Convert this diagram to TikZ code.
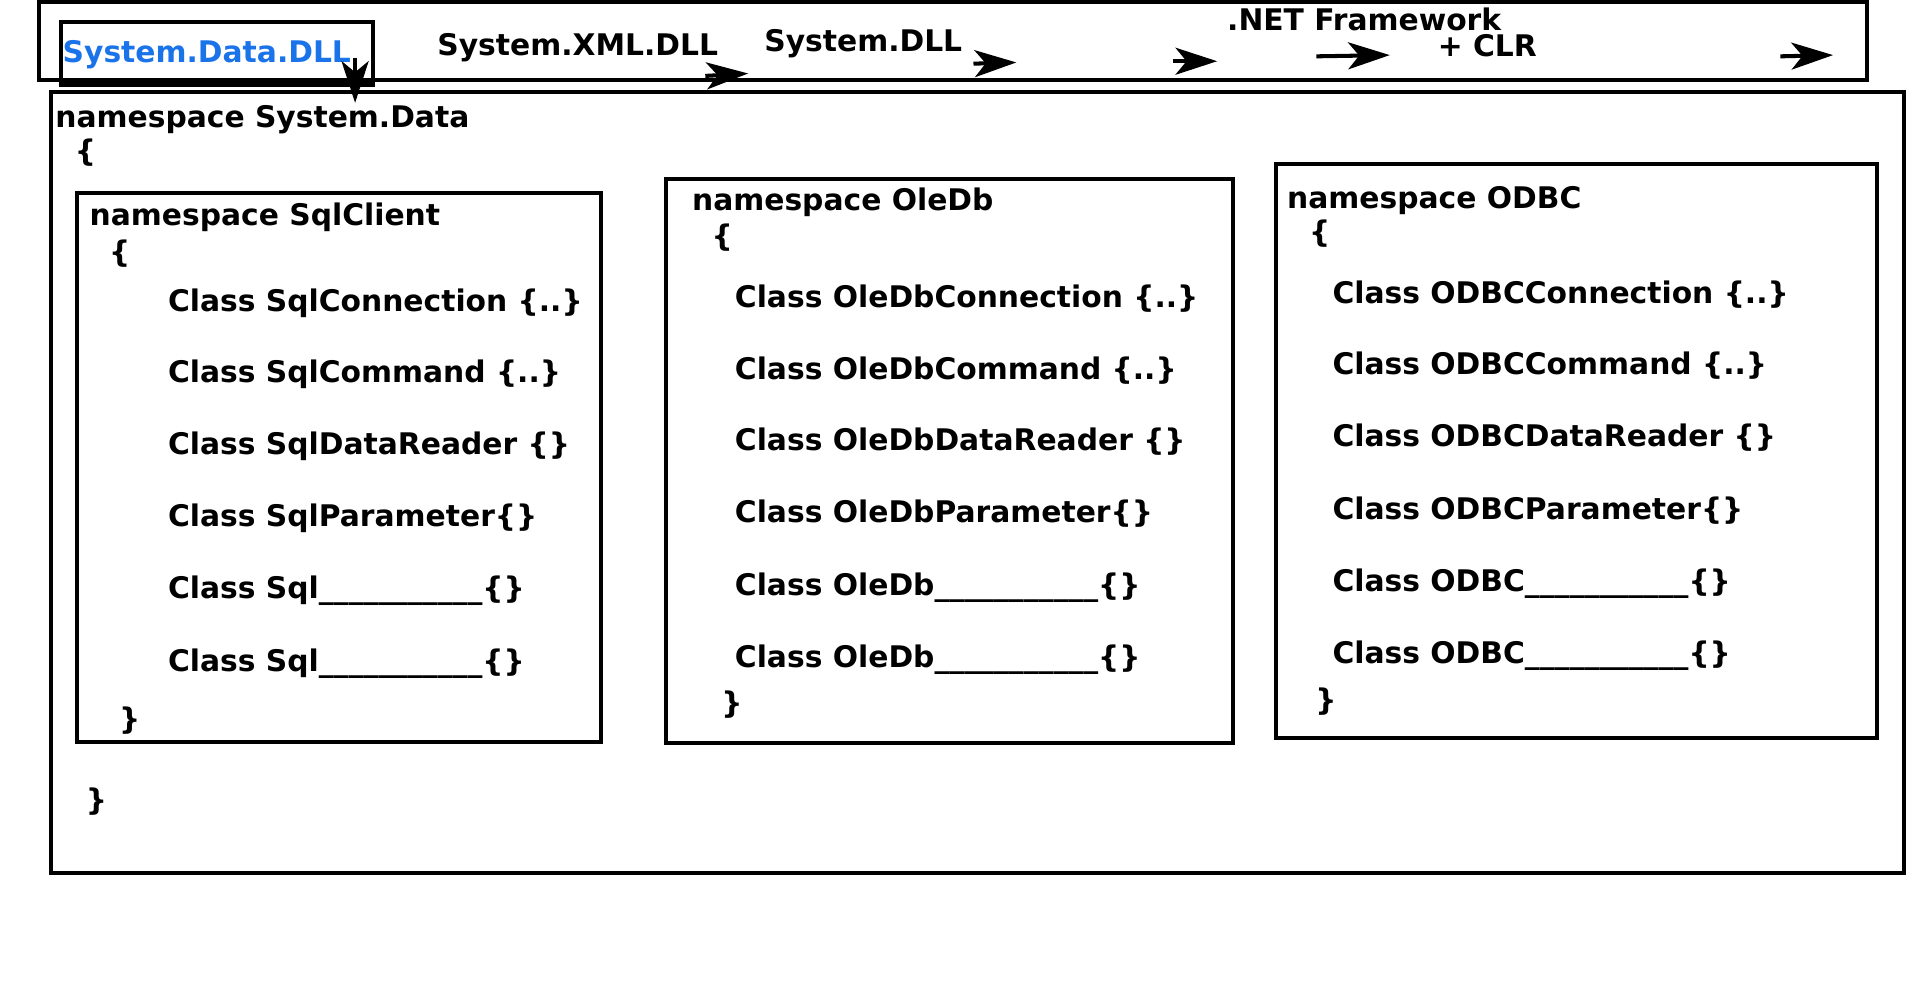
\documentclass[tikz,border=0pt]{standalone}
\usepackage{fontspec}
\setmainfont{DejaVu Sans}
\usetikzlibrary{arrows.meta}
\definecolor{dllblue}{HTML}{1A73E8}
\tikzset{%
  nsbox/.style={draw,line width=3.3pt,inner sep=0,outer sep=0,anchor=north west},
  lbl/.style={anchor=base west,inner sep=0,font=\fontsize{24.3}{28}\selectfont\bfseries},
  flow/.style={line width=3.3pt,-{Stealth[length=34pt,width=22pt,inset=9pt]}}
}

\begin{document}
\begin{tikzpicture}[x=1pt,y=-1pt]
  \useasboundingbox (0,0) rectangle (1568,809);
  % frame and library boxes
  \node[nsbox,minimum width=1493pt,minimum height=63pt] (fw) at (32,2) {};
  \node[nsbox,minimum width=255pt,minimum height=51pt] (dll) at (50,18) {};
  \node[nsbox,minimum width=1513pt,minimum height=638pt] (sysdata) at (42,75) {};
  \node[nsbox,minimum width=428pt,minimum height=448pt] (sqlbox) at (63,158) {};
  \node[nsbox,minimum width=463pt,minimum height=461pt] (olebox) at (544,146) {};
  \node[nsbox,minimum width=491pt,minimum height=469pt] (odbcbox) at (1042,134) {};

  % top row
  \node[lbl,text=dllblue] (dlltext) at (51,51) {System.Data.DLL};
  \node[lbl] (xmltext) at (357,45) {System.XML.DLL};
  \node[lbl] (systext) at (624,42) {System.DLL};
  \node[lbl] (nettext) at (1002,25) {.NET Framework};
  \node[lbl] (clrtext) at (1174,46) {+ CLR};

  \coordinate (a1s) at (290,47);   \coordinate (a1e) at (290,84);
  \coordinate (a2s) at (576,62);   \coordinate (a2e) at (611,60);
  \coordinate (a3s) at (795,52);   \coordinate (a3e) at (830,51);
  \coordinate (a4s) at (958,50);   \coordinate (a4e) at (994,50);
  \coordinate (a5s) at (1075,46);  \coordinate (a5e) at (1135,45);
  \coordinate (a6s) at (1454,46);  \coordinate (a6e) at (1497,45);
  \draw[flow] (a1s) -- (a1e);
  \draw[flow] (a2s) -- (a2e);
  \draw[flow] (a3s) -- (a3e);
  \draw[flow] (a4s) -- (a4e);
  \draw[flow] (a5s) -- (a5e);
  \draw[flow] (a6s) -- (a6e);

  % namespace System.Data
  \node[lbl] (sdname) at (45,104) {namespace System.Data};
  \node[lbl] (sdopen) at (61,132) {\{};
  \node[lbl] (sdclose) at (70,662) {\}};

  % SqlClient
  \node[lbl] (sqlname) at (73,184) {namespace SqlClient};
  \node[lbl] (sqlopen) at (89,214) {\{};
  \node[lbl] (sql1) at (137,254) {Class SqlConnection \{..\}};
  \node[lbl] (sql2) at (137,312) {Class SqlCommand \{..\}};
  \node[lbl] (sql3) at (137,371) {Class SqlDataReader \{\}};
  \node[lbl] (sql4) at (137,430) {Class SqlParameter\{\}};
  \node[lbl] (sql5) at (137,489) {Class Sql\_\_\_\_\_\_\_\_\_\_\_\{\}};
  \node[lbl] (sql6) at (137,548) {Class Sql\_\_\_\_\_\_\_\_\_\_\_\{\}};
  \node[lbl] (sqlclose) at (97,596) {\}};

  % OleDb
  \node[lbl] (olename) at (565,172) {namespace OleDb};
  \node[lbl] (oleopen) at (581,201) {\{};
  \node[lbl] (ole1) at (600,251) {Class OleDbConnection \{..\}};
  \node[lbl] (ole2) at (600,310) {Class OleDbCommand \{..\}};
  \node[lbl] (ole3) at (600,368) {Class OleDbDataReader \{\}};
  \node[lbl] (ole4) at (600,427) {Class OleDbParameter\{\}};
  \node[lbl] (ole5) at (600,486) {Class OleDb\_\_\_\_\_\_\_\_\_\_\_\{\}};
  \node[lbl] (ole6) at (600,545) {Class OleDb\_\_\_\_\_\_\_\_\_\_\_\{\}};
  \node[lbl] (oleclose) at (589,583) {\}};

  % ODBC
  \node[lbl] (odbcname) at (1051,170) {namespace ODBC};
  \node[lbl] (odbcopen) at (1069,198) {\{};
  \node[lbl] (odbc1) at (1088,248) {Class ODBCConnection \{..\}};
  \node[lbl] (odbc2) at (1088,306) {Class ODBCCommand \{..\}};
  \node[lbl] (odbc3) at (1088,365) {Class ODBCDataReader \{\}};
  \node[lbl] (odbc4) at (1088,424) {Class ODBCParameter\{\}};
  \node[lbl] (odbc5) at (1088,483) {Class ODBC\_\_\_\_\_\_\_\_\_\_\_\{\}};
  \node[lbl] (odbc6) at (1088,542) {Class ODBC\_\_\_\_\_\_\_\_\_\_\_\{\}};
  \node[lbl] (odbcclose) at (1074,580) {\}};
\end{tikzpicture}
\end{document}
